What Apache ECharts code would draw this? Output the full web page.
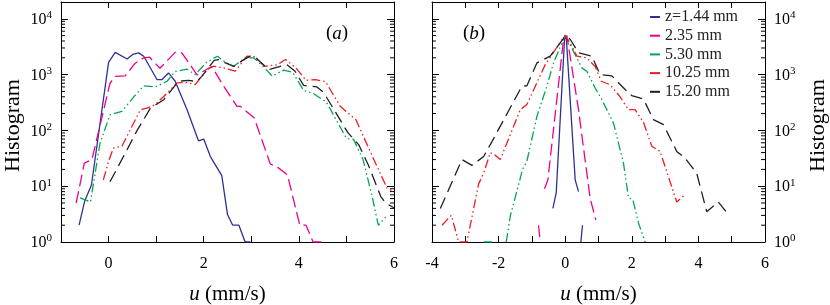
<!DOCTYPE html>
<html><head><meta charset="utf-8">
<script src="https://cdn.jsdelivr.net/npm/echarts@6/dist/echarts.min.js"></script>
<style>html,body{margin:0;padding:0;background:#fff}#c{width:830px;height:305px}</style>
</head><body><div id="c"></div>
<script>
const FONT = 'Liberation Serif';
const seriesNames = ['z=1.44 mm', '2.35 mm', '5.30 mm', '10.25 mm', '15.20 mm'];
const seriesColors = ['#2e3192', '#ec008c', '#00a651', '#ed1c24', '#231f20'];
const seriesDash = ['solid', [12, 5], [9, 3, 1.5, 3, 1.5, 3], [9, 3, 1.5, 3, 1.5, 3], [12, 6]];
const xTicksA = [-1, 6];
const xTicksB = [-4, 6];
const yRange = [1, 20000];
const minorTickValues = [2,3,4,5,6,7,8,9,20,30,40,50,60,70,80,90,200,300,400,500,600,700,800,900,2000,3000,4000,5000,6000,7000,8000,9000];

// panel (a): [u, histogram]
const blueA = [[-0.62,2],[-0.50,5.5],[-0.36,10.5],[0.0,1650],[0.14,2500],[0.39,1900],[0.51,2300],[0.63,2450],[0.74,2130],[1.02,810],[1.12,810],[1.26,1070],[1.40,760],[1.65,235],[1.89,65],[2.0,70],[2.14,34],[2.38,15.5],[2.50,3.1],[2.61,2],[2.74,2],[2.87,1],[2.98,1]];
const magentaA = [[-0.68,5],[-0.51,26],[-0.35,30],[0.03,700],[0.14,930],[0.35,950],[0.56,1600],[0.74,2000],[0.86,2050],[1.08,1300],[1.40,2500],[1.54,2450],[1.86,990],[2.17,1400],[2.42,620],[2.70,270],[2.77,270],[3.06,168],[3.40,25],[3.55,22],[3.76,16],[4.02,2],[4.15,2],[4.30,1],[4.48,1]];
const greenA = [[-0.60,6.2],[-0.38,5.2],[-0.18,59],[0.03,190],[0.28,220],[0.53,400],[0.74,630],[0.98,600],[1.23,760],[1.40,1140],[1.65,1250],[1.82,1000],[2.07,1700],[2.29,2130],[2.42,1750],[2.63,1410],[2.87,2000],[3.05,2000],[3.25,1400],[3.44,940],[3.68,1200],[3.87,1100],[4.10,520],[4.30,460],[4.58,320],[5.00,72],[5.15,69],[5.35,30],[5.54,6.6],[5.67,2],[5.84,2.9]];
const redA = [[-0.11,13],[0.0,28],[0.10,48],[0.28,52],[0.67,235],[0.81,250],[0.98,290],[1.23,465],[1.44,710],[1.65,720],[1.82,660],[2.07,1230],[2.21,1410],[2.45,1300],[2.66,1150],[2.91,2140],[3.05,2100],[3.29,1410],[3.55,1500],[3.72,1860],[3.94,1320],[4.15,790],[4.35,810],[4.56,750],[4.87,270],[5.20,155],[5.54,35],[5.74,15],[5.86,9],[6.0,8]];
const blackA = [[0.03,12],[0.35,39],[0.60,100],[0.88,250],[1.16,355],[1.47,760],[1.68,790],[1.85,750],[1.96,930],[2.22,1800],[2.31,1850],[2.63,1400],[2.84,1850],[2.98,2140],[3.10,2000],[3.36,1230],[3.61,1400],[3.75,1500],[3.92,1150],[4.10,640],[4.38,600],[4.52,480],[5.03,91],[5.26,55],[5.47,23],[5.72,6.6],[5.82,5],[6.0,4.1]];

// panel (b)
const blueB = [[-0.37,4],[-0.27,7.6],[-0.02,4250],[0.03,4900],[0.30,13],[0.40,8],[0.44,null],[0.47,1],[0.52,2]];
const magentaB = [[-0.80,2],[-0.75,1],[-0.68,null],[-0.62,9],[-0.52,13],[-0.05,4300],[0.05,5000],[0.40,235],[0.75,6],[0.92,2.5]];
const greenB = [[-2.45,1],[-2.2,1],[-2.0,null],[-1.77,1],[-1.65,2.9],[-1.28,20],[-1.15,28],[-0.85,178],[-0.55,620],[-0.35,1620],[0.0,5100],[0.5,1320],[0.65,1150],[0.9,575],[1.1,355],[1.35,178],[1.45,135],[1.75,26],[1.9,6.2],[2.03,5.8],[2.2,2.2],[2.4,1]];
const redB = [[-3.70,2],[-3.42,3],[-3.2,1],[-2.95,1],[-2.85,2],[-2.6,11],[-2.45,17],[-2.25,40],[-2.1,36],[-1.95,30],[-1.35,235],[-1.15,290],[-0.6,1510],[-0.15,3800],[0.0,5000],[0.15,3700],[0.35,2140],[0.65,1990],[0.9,1400],[1.08,760],[1.35,660],[1.65,400],[1.9,235],[2.1,235],[2.35,140],[2.6,52],[2.85,42],[3.35,5.2],[3.6,7.1]];
const blackB = [[-3.75,4],[-3.1,30],[-2.8,23.6],[-2.45,34],[-2.2,63],[-1.9,135],[-1.3,620],[-1.15,630],[-0.85,1620],[-0.45,2140],[0.0,4900],[0.15,4300],[0.4,2450],[0.8,2130],[1.05,1000],[1.4,950],[1.8,540],[2.0,420],[2.35,365],[2.65,156],[2.95,127],[3.35,42],[3.6,32],[3.95,17],[4.25,3.5],[4.6,5.2],[4.9,3.1]];

const dataA = [blueA, magentaA, greenA, redA, blackA];
const dataB = [blueB, magentaB, greenB, redB, blackB];

const black = '#000';
function xAxis(grid, range, pos, labels, name) {
  return {
    gridIndex: grid, type: 'value', min: range[0], max: range[1], interval: 1, position: pos,
    axisLine: {show: true, onZero: false, lineStyle: {color: black, width: 1}},
    axisTick: {show: true, inside: true, length: 6, lineStyle: {color: black}},
    axisLabel: {show: labels, margin: 14, color: black, fontFamily: FONT, fontSize: 16,
      formatter: v => (v % 2 === 0 ? String(v) : '')},
    splitLine: {show: false},
    name: name || '', nameLocation: 'middle', nameGap: 42,
    nameTextStyle: {rich: {i: {fontFamily: FONT, fontSize: 21, fontStyle: 'italic', color: black},
                           n: {fontFamily: FONT, fontSize: 21, color: black}}}
  };
}
function supFmt(v) {
  const e = Math.log10(v);
  if (Math.abs(e - Math.round(e)) > 1e-6) return '';
  return '{b|10}{s|' + Math.round(e) + '}';
}
function yAxis(grid, pos, labels) {
  return {
    gridIndex: grid, type: 'log', logBase: 10, min: yRange[0], max: yRange[1], position: pos,
    axisLine: {show: true, onZero: false, lineStyle: {color: black, width: 1}},
    axisTick: {show: true, inside: true, length: 7, lineStyle: {color: black}},
    axisLabel: {show: labels, margin: 9, color: black, formatter: supFmt, showMaxLabel: false,
      rich: {b: {fontFamily: FONT, fontSize: 16, color: black, lineHeight: 18, verticalAlign: 'bottom'},
             s: {fontFamily: FONT, fontSize: 11, color: black, lineHeight: 18, verticalAlign: 'top', padding: [0,0,6,0]}}},
    splitLine: {show: false}, minorTick: {show: false}
  };
}

const series = [];
function lineSeries(d, i, xi, yi) {
  return {
    name: seriesNames[i], type: 'line', data: d, xAxisIndex: xi, yAxisIndex: yi,
    showSymbol: false, symbol: 'none', connectNulls: false, clip: true, animation: false,
    lineStyle: {color: seriesColors[i], width: 1.3, type: seriesDash[i]},
    itemStyle: {color: seriesColors[i]}, z: 3
  };
}
dataA.forEach((d, i) => series.push(lineSeries(d, i, 0, 0)));
dataB.forEach((d, i) => series.push(lineSeries(d, i, 2, 2)));

function minorSeries(xi, yi, xmin) {
  return {
    type: 'custom', xAxisIndex: xi, yAxisIndex: yi, silent: true, animation: false, z: 5,
    data: minorTickValues.map(v => [xmin, v]),
    renderItem: (params, api) => {
      const y = api.coord([api.value(0), api.value(1)])[1];
      const cs = params.coordSys;
      return {type: 'group', children: [
        {type: 'line', shape: {x1: cs.x, y1: y, x2: cs.x + 4, y2: y}, style: {stroke: black, lineWidth: 1}},
        {type: 'line', shape: {x1: cs.x + cs.width - 4, y1: y, x2: cs.x + cs.width, y2: y}, style: {stroke: black, lineWidth: 1}}
      ]};
    }
  };
}
series.push(minorSeries(0, 0, xTicksA[0]));
series.push(minorSeries(2, 2, xTicksB[0]));

const xName = '{i|u}{n| (mm/s)}';
const option = {
  backgroundColor: '#fff',
  animation: false,
  grid: [
    {left: 61, right: 436, top: 2, bottom: 63, containLabel: false, outerBoundsMode: 'none'},
    {left: 432, right: 65, top: 2, bottom: 63, containLabel: false, outerBoundsMode: 'none'}
  ],
  xAxis: [
    xAxis(0, xTicksA, 'bottom', true, xName),
    xAxis(0, xTicksA, 'top', false),
    xAxis(1, xTicksB, 'bottom', true, xName),
    xAxis(1, xTicksB, 'top', false)
  ],
  yAxis: [
    yAxis(0, 'left', true),
    yAxis(0, 'right', false),
    yAxis(1, 'left', false),
    yAxis(1, 'right', true)
  ],
  legend: {
    data: seriesNames, orient: 'vertical', left: 645, top: 4,
    icon: 'rect', itemWidth: 10, itemHeight: 2, itemGap: 2.7, selectedMode: false,
    itemStyle: {borderWidth: 0}, lineStyle: {width: 0},
    textStyle: {fontFamily: FONT, fontSize: 16, color: '#222', width: 93, align: 'right', lineHeight: 15.5}
  },
  graphic: [
    {type: 'text', left: 326, top: 24, style: {text: '{p|(}{i|a}{p|)}', rich: {
      p: {fontFamily: FONT, fontSize: 19, fill: black}, i: {fontFamily: FONT, fontSize: 19, fontStyle: 'italic', fill: black}}}},
    {type: 'text', left: 463, top: 24, style: {text: '{p|(}{i|b}{p|)}', rich: {
      p: {fontFamily: FONT, fontSize: 19, fill: black}, i: {fontFamily: FONT, fontSize: 19, fontStyle: 'italic', fill: black}}}},
    {type: 'text', x: 2, y: 172, rotation: Math.PI / 2, style: {text: 'Histogram', fontFamily: FONT, fontSize: 22, fill: black}},
    {type: 'text', x: 807, y: 172, rotation: Math.PI / 2, style: {text: 'Histogram', fontFamily: FONT, fontSize: 22, fill: black}}
  ],
  series: series
};
const chart = echarts.init(document.getElementById('c'), null, {renderer: 'canvas'});
chart.setOption(option);
</script></body></html>
